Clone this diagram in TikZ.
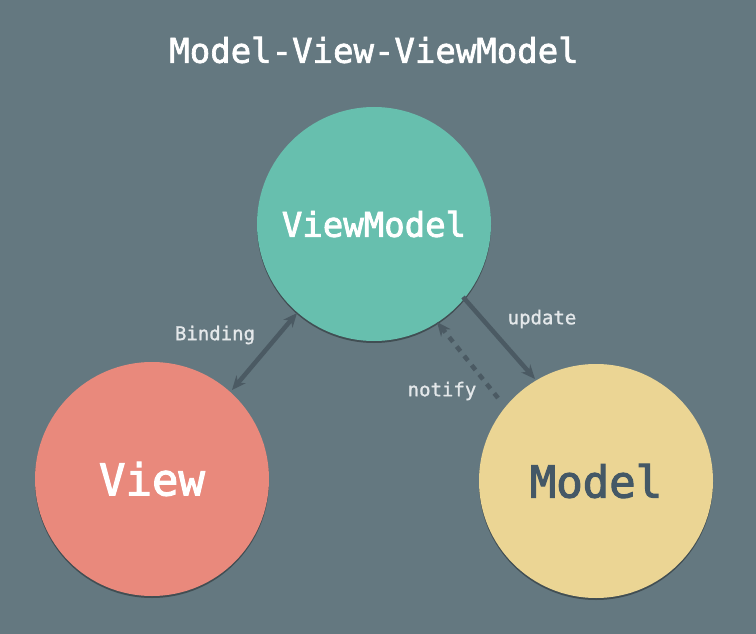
\documentclass[tikz,border=0pt]{standalone}
\usepackage{fontspec}
\setmonofont{DejaVu Sans Mono}
\newfontfamily\medmono[FakeBold=2.5]{DejaVu Sans Mono}
\newfontfamily\titlemono[FakeBold=2]{DejaVu Sans Mono}
\newfontfamily\lightmed[FakeBold=1.2]{DejaVu Sans Mono}
\usetikzlibrary{arrows.meta,shadows}
\definecolor{bg}{HTML}{647880}
\definecolor{vmc}{HTML}{67BFAE}
\definecolor{vc}{HTML}{E9897C}
\definecolor{mc}{HTML}{EBD594}
\definecolor{arr}{HTML}{4B5A63}
\definecolor{lbl}{HTML}{E4E8EA}
\definecolor{mtext}{HTML}{445866}
\tikzset{
  bubble/.style={circle, minimum size=234pt, inner sep=0pt,
    drop shadow={shadow xshift=0pt, shadow yshift=-2pt, opacity=0.35, fill=black}},
  conn/.style={draw=arr, line width=4.5pt, -{Stealth[length=14pt,width=12pt]}},
  lab/.style={text=lbl, font=\lightmed\fontsize{19}{22}\selectfont},
}
\begin{document}
\begin{tikzpicture}[x=1pt,y=-1pt]
\fill[bg] (0,0) rectangle (756,634);
\useasboundingbox (0,0) rectangle (756,634);
\node[text=white, font=\titlemono\fontsize{34}{40}\selectfont] (title) at (374,50) {Model-View-ViewModel};
\node[bubble, fill=vmc, text=white, font=\medmono\fontsize{34}{40}\selectfont] (vm) at (374,224) {ViewModel};
\node[bubble, fill=vc, text=white, font=\medmono\fontsize{44}{50}\selectfont] (v) at (152,479) {View};
\node[bubble, fill=mc, text=mtext, font=\medmono\fontsize{44}{50}\selectfont] (m) at (596,481) {Model};
\coordinate (b1) at (232,390);
\coordinate (b2) at (297,313);
\draw[conn, {Stealth[length=14pt,width=12pt]}-{Stealth[length=14pt,width=12pt]}] (b1) -- (b2);
\coordinate (u1) at (463,297);
\coordinate (u2) at (535,379);
\draw[conn] (u1) -- (u2);
\coordinate (n1) at (498,398);
\coordinate (n2) at (437,322);
\draw[conn, dash pattern=on 6pt off 6pt] (n1) -- (n2);
\node[lab] (bl) at (215,335) {Binding};
\node[lab] (ul) at (542,319) {update};
\node[lab] (nl) at (442,391) {notify};
\end{tikzpicture}
\end{document}
